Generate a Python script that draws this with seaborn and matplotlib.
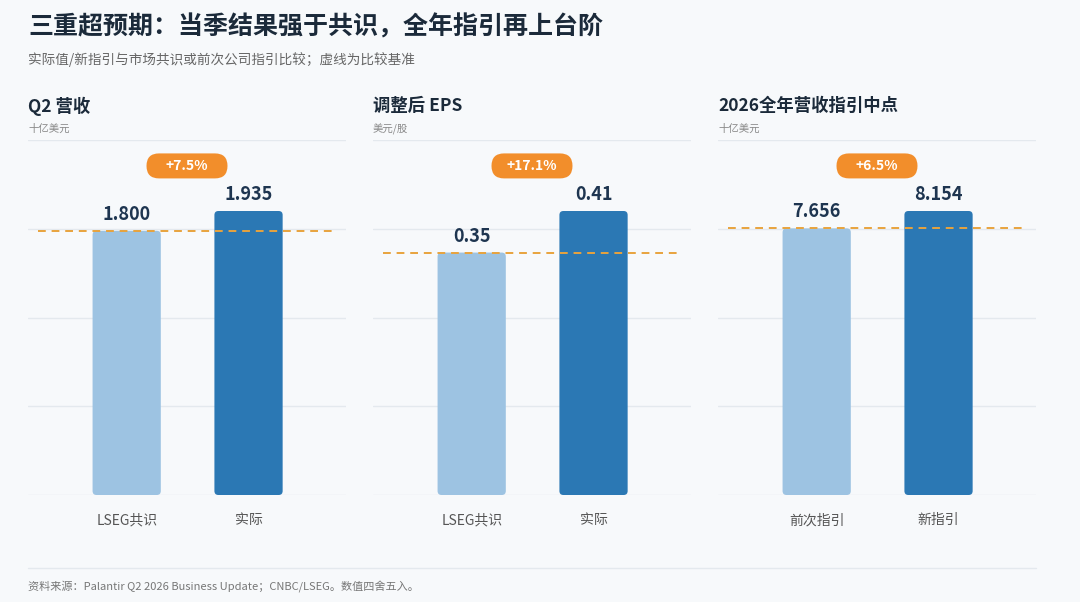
import numpy as np
import matplotlib
matplotlib.use("Agg")
import matplotlib.pyplot as plt
import seaborn as sns
from matplotlib.patches import FancyBboxPatch
from matplotlib.lines import Line2D

# data
panel_titles = ["Q2 营收", "调整后 EPS", "2026全年营收指引中点"]
panel_units = ["十亿美元", "美元/股", "十亿美元"]
cats_q2 = ["LSEG共识", "实际"]
cats_eps = ["LSEG共识", "实际"]
cats_guide = ["前次指引", "新指引"]
vals_q2 = [1.800, 1.935]
vals_eps = [0.35, 0.41]
vals_guide = [7.656, 8.154]
labels_q2 = ["1.800", "1.935"]
labels_eps = ["0.35", "0.41"]
labels_guide = ["7.656", "8.154"]
deltas = ["+7.5%", "+17.1%", "+6.5%"]

bg = "#f7f9fb"
light_blue = "#9dc3e2"
dark_blue = "#2b78b4"
orange = "#f28e2b"
navy = "#1e3550"

sns.set_theme(style="white")
plt.rcParams["font.family"] = ["Noto Sans CJK SC", "DejaVu Sans"]

fig = plt.figure(figsize=(10.8, 6.02), dpi=100)
fig.patch.set_facecolor(bg)

fig.text(28 / 1080, 1 - 27 / 602, "三重超预期：当季结果强于共识，全年指引再上台阶",
         fontsize=18, fontweight="bold", color="#1b2a3a", va="center", ha="left")
fig.text(28 / 1080, 1 - 60 / 602, "实际值/新指引与市场共识或前次公司指引比较；虚线为比较基准",
         fontsize=9.8, color="#666666", va="center", ha="left")

lefts = [28, 373, 718]
pw = 318
ax_bottom = 1 - 495 / 602
ax_h = (495 - 140) / 602

panels = [
    (cats_q2, vals_q2, labels_q2),
    (cats_eps, vals_eps, labels_eps),
    (cats_guide, vals_guide, labels_guide),
]

for i, (cats, vals, labs) in enumerate(panels):
    ax = fig.add_axes([lefts[i] / 1080, ax_bottom, pw / 1080, ax_h])
    ax.set_facecolor(bg)
    sns.barplot(x=cats, y=vals, hue=cats, palette=[light_blue, dark_blue],
                legend=False, width=0.56, ax=ax, saturation=1)
    ymax = max(vals) * 1.25
    ax.set_ylim(0, ymax)
    ax.set_xlim(-0.81, 1.8)

    # rounded bars
    x_per_px = 2.61 / pw
    y_per_px = ymax / 355
    for p in list(ax.patches):
        x, y = p.get_x(), p.get_y()
        w, h = p.get_width(), p.get_height()
        fc = p.get_facecolor()
        p.set_visible(False)
        ax.add_patch(FancyBboxPatch((x, y), w, h,
                                    boxstyle=f"round,pad=0,rounding_size={4 * x_per_px}",
                                    mutation_aspect=y_per_px / x_per_px,
                                    fc=fc, ec="none", zorder=2))

    ax.set_yticks(np.linspace(0, ymax, 5))
    ax.set_yticklabels([])
    ax.grid(axis="y", color="#e4e9ee", lw=1)
    ax.set_axisbelow(True)
    ax.tick_params(axis="y", length=0)
    ax.tick_params(axis="x", length=0, pad=13, labelsize=10, labelcolor="#555555")
    for s in ax.spines.values():
        s.set_visible(False)
    ax.set_xlabel("")
    ax.set_ylabel("")

    ax.axhline(vals[0], xmin=0.03, xmax=0.955, color="#e8a33d", lw=1.4,
               ls=(0, (4, 3)), zorder=3)

    for j, (v, lab) in enumerate(zip(vals, labs)):
        ax.annotate(lab, (j, v), xytext=(0, 5), textcoords="offset points",
                    ha="center", va="bottom", fontsize=13, fontweight="bold",
                    color=navy)

    # pill with percentage
    bw, bh = 81 / pw, 25 / 355
    ax.add_patch(FancyBboxPatch((0.5 - bw / 2, 0.927 - bh / 2), bw, bh,
                                boxstyle=f"round,pad=0,rounding_size={12.5 / pw}",
                                mutation_aspect=pw / 355, transform=ax.transAxes,
                                fc=orange, ec="none", clip_on=False, zorder=4))
    ax.text(0.5, 0.927, deltas[i], transform=ax.transAxes, ha="center", va="center",
            fontsize=10, fontweight="bold", color="white", zorder=5)

    fig.text(lefts[i] / 1080, 1 - 106 / 602, panel_titles[i], fontsize=12.5,
             fontweight="bold", color="#1b2a3a", va="center", ha="left")
    fig.text(lefts[i] / 1080, 1 - 129 / 602, panel_units[i], fontsize=7.5,
             color="#888888", va="center", ha="left")

fig.add_artist(Line2D([28 / 1080, 1036 / 1080], [1 - 568 / 602, 1 - 568 / 602],
                      color="#e4e9ee", lw=1))
fig.text(28 / 1080, 1 - 587 / 602,
         "资料来源：Palantir Q2 2026 Business Update；CNBC/LSEG。数值四舍五入。",
         fontsize=8, color="#777777", va="center", ha="left")

fig.savefig("out.png", dpi=100, facecolor=bg)
